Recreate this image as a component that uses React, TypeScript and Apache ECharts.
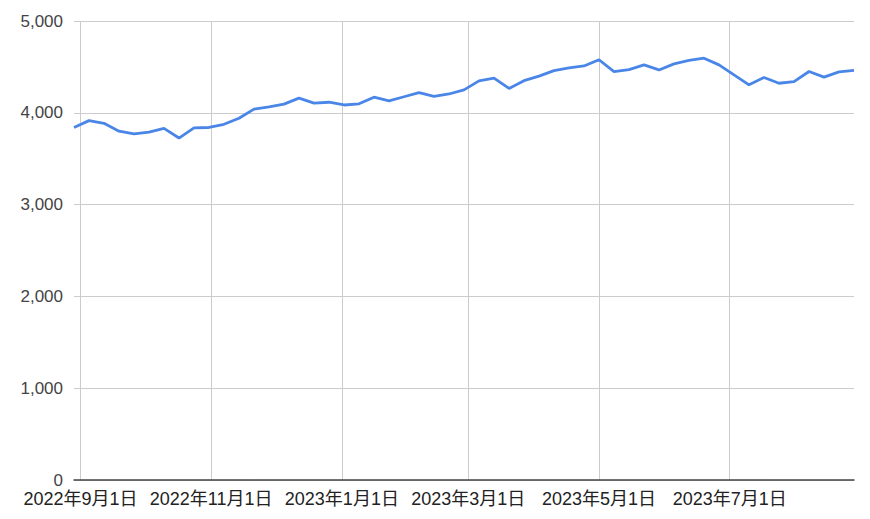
import React, { useEffect, useRef } from "react";
import * as echarts from "echarts";

const dates: string[] = [
  "2022-08-29", "2022-09-05", "2022-09-12", "2022-09-19", "2022-09-26",
  "2022-10-03", "2022-10-10", "2022-10-17", "2022-10-24", "2022-10-31",
  "2022-11-07", "2022-11-14", "2022-11-21", "2022-11-28",
  "2022-12-05", "2022-12-12", "2022-12-19", "2022-12-26",
  "2023-01-02", "2023-01-09", "2023-01-16", "2023-01-23", "2023-01-30",
  "2023-02-06", "2023-02-13", "2023-02-20", "2023-02-27",
  "2023-03-06", "2023-03-13", "2023-03-20", "2023-03-27",
  "2023-04-03", "2023-04-10", "2023-04-17", "2023-04-24",
  "2023-05-01", "2023-05-08", "2023-05-15", "2023-05-22", "2023-05-29",
  "2023-06-05", "2023-06-12", "2023-06-19", "2023-06-26",
  "2023-07-03", "2023-07-10", "2023-07-17", "2023-07-24", "2023-07-31",
  "2023-08-07", "2023-08-14", "2023-08-21", "2023-08-28",
];

const values: number[] = [
  3840, 3915, 3885, 3800, 3770,
  3790, 3830, 3725, 3835, 3840,
  3875, 3940, 4040, 4065,
  4095, 4160, 4105, 4115,
  4085, 4098, 4170, 4130, 4175,
  4220, 4180, 4205, 4250,
  4348, 4378, 4265, 4350,
  4400, 4460, 4490, 4510,
  4578, 4448, 4470, 4522, 4467,
  4533, 4570, 4595, 4522,
  4413, 4305, 4385, 4322, 4340,
  4450, 4388, 4446, 4462,
];

const xTickDates: string[] = [
  "2022-09-01", "2022-11-01", "2023-01-01", "2023-03-01", "2023-05-01", "2023-07-01",
];

const yTicks: number[] = [0, 1000, 2000, 3000, 4000, 5000];

function ts(s: string): number {
  const [y, m, d] = s.split("-").map(Number);
  return new Date(y, m - 1, d).getTime();
}

export default function App() {
  const ref = useRef<HTMLDivElement>(null);
  useEffect(() => {
    if (!ref.current) return;
    const chart = echarts.init(ref.current, undefined, { renderer: "svg" });
    const tickVals = xTickDates.map(ts);
    const font = "Arial, 'Liberation Sans', 'Noto Sans CJK JP', sans-serif";
    chart.setOption({
      animation: false,
      backgroundColor: "#ffffff",
      grid: { left: 74, right: 16, top: 21, bottom: 39, containLabel: false },
      xAxis: {
        type: "value",
        min: ts(dates[0]),
        max: ts(dates[dates.length - 1]),
        axisLine: { show: true, onZero: false, lineStyle: { color: "#444444", width: 1.5 } },
        axisTick: { show: false, customValues: tickVals },
        splitLine: { show: true, lineStyle: { color: "#cccccc", width: 1 } },
        axisLabel: {
          customValues: tickVals,
          color: "#222222",
          fontSize: 18,
          fontFamily: font,
          margin: 10,
          showMinLabel: true,
          showMaxLabel: true,
          hideOverlap: false,
          formatter: (v: number) => {
            const d = new Date(v);
            return `${d.getFullYear()}年${d.getMonth() + 1}月${d.getDate()}日`;
          },
        },
      },
      yAxis: {
        type: "value",
        min: yTicks[0],
        max: yTicks[yTicks.length - 1],
        interval: 1000,
        axisLine: { show: false },
        axisTick: { show: false },
        splitLine: { show: true, lineStyle: { color: "#cccccc", width: 1 } },
        axisLabel: {
          color: "#444444",
          fontSize: 17,
          fontFamily: font,
          margin: 11,
          formatter: (v: number) => v.toLocaleString("en-US"),
        },
      },
      series: [
        {
          type: "line",
          data: dates.map((d, i) => [ts(d), values[i]]),
          showSymbol: false,
          symbol: "none",
          lineStyle: { color: "#4a86e8", width: 2.8 },
          itemStyle: { color: "#4a86e8" },
          silent: true,
        },
      ],
    });
    return () => chart.dispose();
  }, []);
  return (
    <div
      ref={ref}
      style={{ position: "fixed", left: 0, top: 0, width: 870, height: 519 }}
    />
  );
}
